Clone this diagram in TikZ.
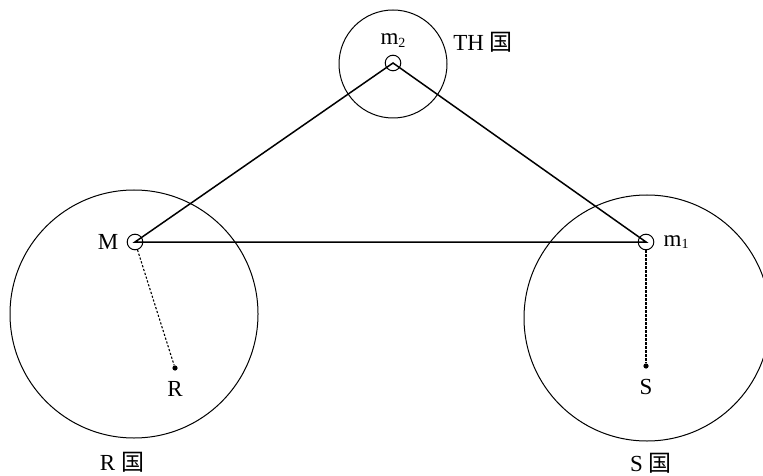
\documentclass[tikz,border=0pt]{standalone}
\usepackage{fontspec}
\setmainfont{Liberation Serif}
\newfontfamily\cjk{Noto Sans CJK JP}
\usetikzlibrary{positioning}
\tikzset{hole/.style={circle,draw,line width=0.5pt,minimum size=7.8pt,inner sep=0pt},
  spot/.style={circle,fill,minimum size=2.6pt,inner sep=0pt},
  zone/.style={line width=0.5pt},
  link/.style={line width=0.75pt},
  guide/.style={line width=0.55pt,dash pattern=on 1.1pt off 0.9pt},
  lbl/.style={inner sep=0pt,font=\fontsize{11.5}{13}\selectfont}}
\newcommand{\sbs}[1]{\raisebox{-1.2pt}{\fontsize{7}{8}\selectfont #1}}

\begin{document}
\begin{tikzpicture}[x=0.5pt,y=-0.5pt]
  \useasboundingbox (0,0) rectangle (763,475);
  % countries
  \draw[zone] (134,314) circle[radius=62pt];
  \draw[zone] (647,318) circle[radius=61.5pt];
  \draw[zone] (393,64) circle[radius=27pt];
  % masses
  \node[hole] (M) at (135,242) {};
  \node[hole] (m1) at (646,242) {};
  \node[hole] (m2) at (393,63) {};
  \node[spot] (R) at (175,368) {};
  \node[spot] (S) at (646,366) {};
  \draw[link] (M.center) -- (m1.center) -- (m2.center) -- cycle;
  \draw[guide] (M) -- (R);
  \draw[guide] (m1) -- (S);
  % labels
  \node[lbl,left=4pt of M] (Mt) {M};
  \node[lbl,right=4.5pt of m1] (m1t) {m\sbs{1}};
  \node[lbl,above=3.5pt of m2] (m2t) {m\sbs{2}};
  \node[lbl,below=5pt of R] (Rt) {R};
  \node[lbl,below=5pt of S] (St) {S};
  \node[lbl] (TH) at (483,42) {TH {\cjk 国}};
  \node[lbl] (Rc) at (122,462) {R {\cjk 国}};
  \node[lbl] (Sc) at (651,463) {S {\cjk 国}};
\end{tikzpicture}
\end{document}
